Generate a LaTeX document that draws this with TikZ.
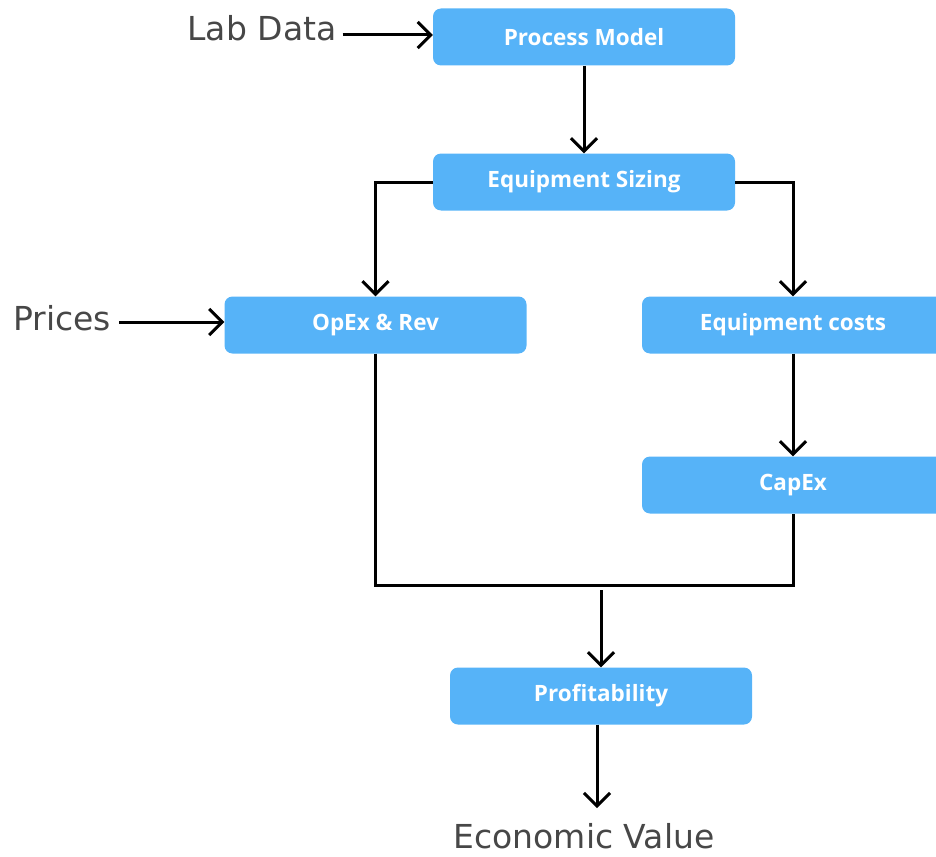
\documentclass[tikz,border=0pt]{standalone}
\usepackage{fontspec}
\setmainfont{Open Sans}
\newfontfamily\labelfont{DejaVu Sans}
\usetikzlibrary{arrows.meta}
\definecolor{boxblue}{HTML}{56B3F8}
\definecolor{labelgray}{HTML}{474747}
\tikzset{
  stepbox/.style={fill=boxblue,rounded corners=8pt,minimum width=302pt,minimum height=57pt,
    text=white,font=\fontsize{22.5}{26}\selectfont\bfseries,inner sep=0pt},
  flowlabel/.style={text=labelgray,font=\labelfont\fontsize{33}{38}\selectfont,inner sep=0pt,anchor=base},
  flow/.style={line width=3pt,-{Straight Barb[length=13pt,width=26pt,line width=3pt]}},
}
\begin{document}
\begin{tikzpicture}[x=1pt,y=-1pt]
\useasboundingbox (0,0) rectangle (936,856);
%
\node[stepbox] (model) at (584,37) {Process Model};
\node[stepbox] (sizing) at (584,182) {Equipment Sizing};
\node[stepbox] (opex) at (375.5,325) {OpEx \& Rev};
\node[stepbox] (eqcost) at (793,325) {Equipment costs};
\node[stepbox] (capex) at (793,485) {CapEx};
\node[stepbox] (profit) at (601,696) {Profitability};
%
\node[flowlabel] (lab) at (262,41) {Lab Data};
\node[flowlabel] (prices) at (62,330) {Prices};
\node[flowlabel] (econ) at (584,848) {Economic Value};
%
\draw[flow] (lab.east |- 0,35)++(6,0) -- (model.west |- 0,35);
\draw[flow] (prices.east |- 0,322)++(8,0) -- (opex.west |- 0,322);
\draw[flow] (model) -- (sizing);
\draw[flow] (sizing.west) -| (opex.north);
\draw[flow] (sizing.east) -| (eqcost.north);
\draw[flow] (eqcost) -- (capex);
\coordinate (join) at (601,585);
\draw[line width=3pt] (opex.south) |- (join) -| (capex.south);
\draw[flow] (join)++(0,5) -- (profit.north);
\draw[flow] (profit.south -| 597,0) -- (597,808);
\end{tikzpicture}
\end{document}
